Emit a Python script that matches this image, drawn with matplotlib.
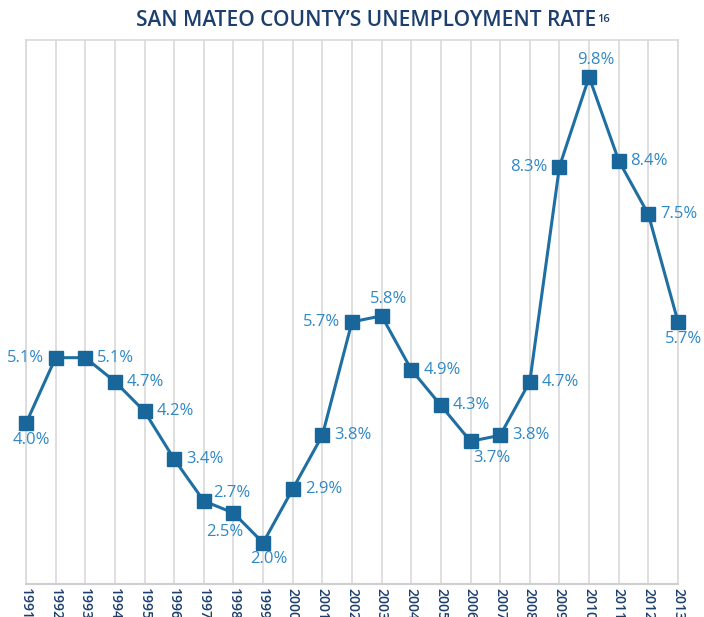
import matplotlib
matplotlib.use("Agg")
import matplotlib.pyplot as plt

years = list(range(1991, 2014))
rates = [4.0, 5.1, 5.1, 4.7, 4.2, 3.4, 2.7, 2.5, 2.0, 2.9, 3.8, 5.7,
         5.8, 4.9, 4.3, 3.7, 3.8, 4.7, 8.3, 9.8, 8.4, 7.5, 5.7]
# where each value label sits relative to its point
label_pos = ["b", "l", "r", "r", "r", "r", "ar", "bl", "b", "r", "r", "l",
             "a", "r", "r", "b", "r", "r", "l", "a", "r", "r", "b"]

LINE = "#1f6fa3"
MARK = "#19679a"
LABEL = "#3088c4"
NAVY = "#1c3f6e"

plt.rcParams['font.family'] = ['Open Sans', 'DejaVu Sans']

fig = plt.figure(figsize=(7.04, 6.17), dpi=100)
ax = fig.add_axes([26/704, 33/617, 652/704, 544/617])

ax.plot(years, rates, color=LINE, lw=2.2, marker="s", ms=10,
        mfc=MARK, mec=MARK, zorder=3, clip_on=False)

offsets = {"r": (22, 0), "l": (-22, 0), "a": (5, 12), "b": (4, -12),
           "ar": (20, 6), "bl": (-6, -14)}
for x, y, p in zip(years, rates, label_pos):
    dx, dy = offsets[p]
    if x == 2006:
        dx = 15
    ax.annotate(f"{y:.1f}%", (x, y), xytext=(dx, dy), textcoords="offset points",
                ha="center", va="center", fontsize=12, color=LABEL, zorder=4)

ax.set_xlim(1991, 2013)
ax.set_ylim(1.31, 10.42)
ax.set_xticks(years)
ax.set_xticklabels([str(y) for y in years], rotation=-90, fontsize=10,
                   color=NAVY, va="top", ha="center", fontweight="semibold")
ax.tick_params(axis="x", length=0, pad=3)
ax.set_yticks([])
ax.grid(axis="x", color="#d9d9d9", lw=1.2)
for side in ["left", "right", "top"]:
    ax.spines[side].set_color("#d9d9d9")
    ax.spines[side].set_linewidth(1.2)
ax.spines["bottom"].set_color("#cfcfcf")
ax.spines["bottom"].set_linewidth(1.5)

title = fig.text(366/704, 1 - 20/617, "SAN MATEO COUNTY\u2019S UNEMPLOYMENT RATE",
                 ha="center", va="center", fontsize=15, fontweight="semibold",
                 color=NAVY)
ax.annotate("16", xy=(1, 1), xycoords=title, xytext=(0.5, -3),
            textcoords="offset points", ha="left", va="top",
            fontsize=8, color=NAVY, fontweight="semibold")

fig.savefig("out.png", dpi=100)
